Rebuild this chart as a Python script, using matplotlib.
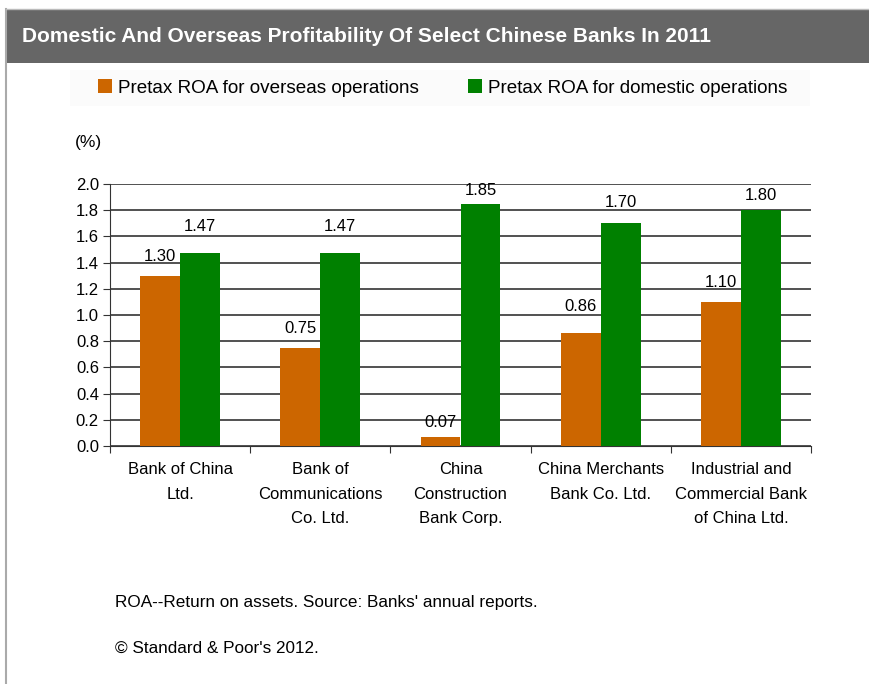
import matplotlib
matplotlib.use("Agg")
import matplotlib.pyplot as plt
from matplotlib.patches import Rectangle
import numpy as np

categories = ["Bank of China\nLtd.", "Bank of\nCommunications\nCo. Ltd.", "China\nConstruction\nBank Corp.",
              "China Merchants\nBank Co. Ltd.", "Industrial and\nCommercial Bank\nof China Ltd."]
overseas = [1.30, 0.75, 0.07, 0.86, 1.10]
domestic = [1.47, 1.47, 1.85, 1.70, 1.80]
series_names = ["Pretax ROA for overseas operations", "Pretax ROA for domestic operations"]
yticks = [0.0, 0.2, 0.4, 0.6, 0.8, 1.0, 1.2, 1.4, 1.6, 1.8, 2.0]
title = "Domestic And Overseas Profitability Of Select Chinese Banks In 2011"
note1 = "ROA--Return on assets. Source: Banks' annual reports."
note2 = "\u00a9 Standard & Poor's 2012."

# label offsets in pixels (style)
off_over = [19, 19, 14, 27, 19]
off_dom = [27, 27, 13, 21, 15]

W, H = 870, 684
plt.rcParams['font.family'] = ['Liberation Sans', 'DejaVu Sans']
fig = plt.figure(figsize=(W / 100, H / 100), dpi=100)
fig.patch.set_facecolor("white")

def fx(x): return x / W
def fy(y): return 1 - y / H

# frame lines
fig.add_artist(plt.Line2D([fx(6), fx(6)], [fy(9), fy(684)], color="#aaaaaa", lw=1.5, transform=fig.transFigure))
fig.add_artist(plt.Line2D([fx(6), fx(870)], [fy(9), fy(9)], color="#bbbbbb", lw=1.0, transform=fig.transFigure))
# title bar
fig.add_artist(Rectangle((fx(6), fy(63)), fx(870) - fx(6), fy(10) - fy(63), transform=fig.transFigure,
                         facecolor="#666666", edgecolor="none"))
fig.text(fx(22), fy(36.5), title, color="white", fontsize=15.0, fontweight="bold", va="center", ha="left",
         family=['Liberation Sans Narrow', 'Liberation Sans', 'DejaVu Sans'])
# legend background
fig.add_artist(Rectangle((fx(70), fy(106)), fx(810) - fx(70), fy(70) - fy(106), transform=fig.transFigure,
                         facecolor="#fbfbfb", edgecolor="none"))

ax = fig.add_axes([fx(110), fy(446), fx(811) - fx(110), fy(184) - fy(446)])
x = np.arange(len(categories))
bw = 0.285
b1 = ax.bar(x - bw / 2, overseas, bw, color="#CC6600", label=series_names[0], zorder=3)
b2 = ax.bar(x + bw / 2, domestic, bw, color="#008000", label=series_names[1], zorder=3)

ax.set_xlim(-0.5, len(categories) - 0.5)
ax.set_ylim(0, 2.0)
ax.set_yticks(yticks)
ax.set_yticklabels([f"{v:.1f}" for v in yticks], fontsize=12)
ax.yaxis.grid(True, color="#333333", lw=1.2, zorder=0)
ax.set_axisbelow(True)
for s in ["top", "right"]:
    ax.spines[s].set_visible(False)
ax.spines["left"].set_color("#333333")
ax.spines["bottom"].set_color("#333333")
ax.tick_params(axis="y", length=5, direction="out", color="#333333", pad=3)
ax.set_xticks(np.arange(len(categories) + 1) - 0.5, minor=False)
ax.set_xticklabels([""] * (len(categories) + 1))
ax.tick_params(axis="x", length=5, direction="out", color="#333333")
for i, c in enumerate(categories):
    ax.text(i, -0.125, c, ha="center", va="top", fontsize=12, linespacing=1.78,
            transform=ax.transData)

for bars, vals, offs in [(b1, overseas, off_over), (b2, domestic, off_dom)]:
    for rect, v, o in zip(bars, vals, offs):
        ax.annotate(f"{v:.2f}", (rect.get_x() + rect.get_width() / 2, v), xytext=(0, o * 0.72),
                    textcoords="offset points", ha="center", va="center", fontsize=12, annotation_clip=False)

fig.text(fx(75), fy(143), "(%)", fontsize=12.5, va="center", ha="left")

leg = fig.legend(handles=[b1, b2], labels=series_names, loc="center", bbox_to_anchor=(fx(443), fy(88)),
                 ncol=2, frameon=False, fontsize=13.6, handlelength=0.7, handleheight=0.7,
                 handletextpad=0.35, columnspacing=2.6)

fig.text(fx(115), fy(602), note1, fontsize=12.3, va="center", ha="left")
fig.text(fx(115), fy(648), note2, fontsize=12.3, va="center", ha="left")

fig.savefig("out.png", dpi=100)
